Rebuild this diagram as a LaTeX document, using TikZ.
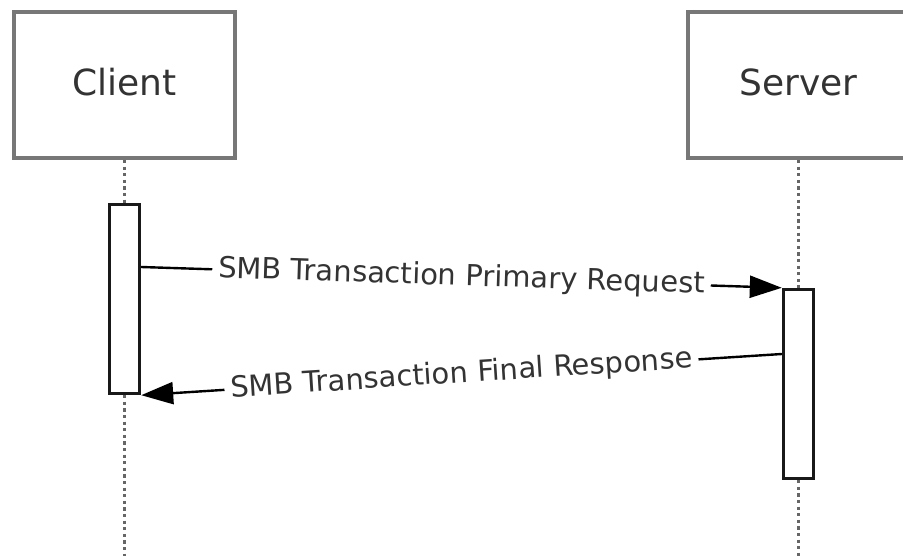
\documentclass[tikz,border=0pt]{standalone}
\usepackage{fontspec}
\setmainfont{DejaVu Sans}
\usetikzlibrary{arrows.meta}
\definecolor{hdrline}{HTML}{777777}
\definecolor{lifec}{HTML}{666666}
\definecolor{txt}{HTML}{333333}
\tikzset{
  head/.style={draw=hdrline, line width=4pt, fill=white, minimum width=221pt, minimum height=146pt,
    inner sep=0pt, text depth=6pt, font=\fontsize{36}{43}\selectfont, text=txt},
  lifeline/.style={draw=lifec, line width=3.6pt, dash pattern=on 3.2pt off 3.4pt},
  actbox/.style={draw=black!90, line width=3.4pt, fill=white, minimum width=30pt, minimum height=189pt, inner sep=0pt},
  msg/.style={draw=black, line width=2.4pt, -{Triangle[length=32pt,width=22pt]}},
  lbl/.style={fill=white, sloped, inner xsep=6pt, inner ysep=2pt, text=txt, font=\fontsize{29}{34}\selectfont}
}
\begin{document}
\begin{tikzpicture}[x=1pt,y=-1pt]
\useasboundingbox (0,0) rectangle (903,556);
\clip (0,0) rectangle (903,556);
\fill[white] (0,0) rectangle (903,556);
% headers
\node[head] (client) at (124.5,85) {Client};
\node[head] (server) at (798.5,85) {Server};
% activation boxes
\node[actbox] (cact) at (124.5,299) {};
\node[actbox] (sact) at (798.5,384) {};
% lifeline end points
\coordinate (cend) at (124.5,556);
\coordinate (send) at (798.5,556);
% lifelines
\draw[lifeline] (client.south) -- (cact.north);
\draw[lifeline] (cact.south) -- (cend);
\draw[lifeline] (server.south) -- (sact.north);
\draw[lifeline] (sact.south) -- (send);
% messages
\draw[msg] (cact.north east |- 0,267) -- (sact.north west)
  node[midway,lbl] {SMB Transaction Primary Request};
\draw[msg] (sact.west |- 0,354) -- (cact.south east)
  node[midway,lbl] {SMB Transaction Final Response};
\end{tikzpicture}
\end{document}
